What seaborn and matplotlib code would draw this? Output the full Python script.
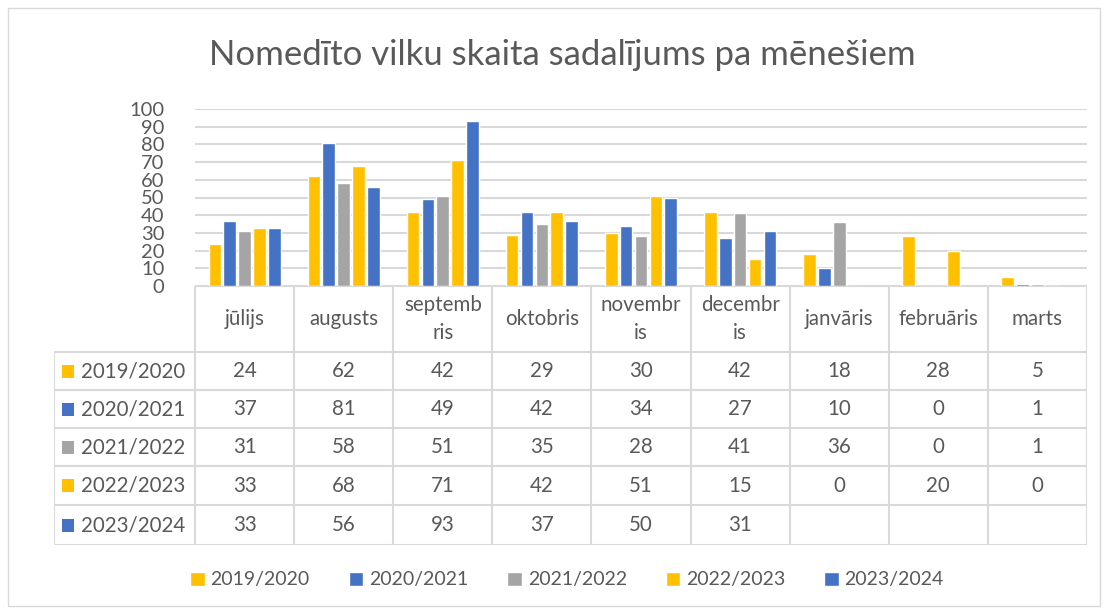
import numpy as np
import pandas as pd
import matplotlib
matplotlib.use("Agg")
import matplotlib.pyplot as plt
from matplotlib.patches import Rectangle
import seaborn as sns

# ------------------------------
# Data
# ------------------------------
months = ["jūlijs", "augusts", "septembris", "oktobris", "novembris",
          "decembris", "janvāris", "februāris", "marts"]
month_labels = ["jūlijs", "augusts", "septemb\nris", "oktobris", "novembr\nis",
                "decembr\nis", "janvāris", "februāris", "marts"]
seasons = ["2019/2020", "2020/2021", "2021/2022", "2022/2023", "2023/2024"]

s2019 = [24, 62, 42, 29, 30, 42, 18, 28, 5]
s2020 = [37, 81, 49, 42, 34, 27, 10, 0, 1]
s2021 = [31, 58, 51, 35, 28, 41, 36, 0, 1]
s2022 = [33, 68, 71, 42, 51, 15, 0, 20, 0]
s2023 = [33, 56, 93, 37, 50, 31, np.nan, np.nan, np.nan]

colors = ["#FFC000", "#4472C4", "#A5A5A5", "#FFC000", "#4472C4"]
text_col = "#595959"
grid_col = "#D9D9D9"

values = [s2019, s2020, s2021, s2022, s2023]
rows = []
for s, vals in zip(seasons, values):
    for m, v in zip(months, vals):
        rows.append({"month": m, "season": s, "count": v})
df = pd.DataFrame(rows)

# ------------------------------
# Figure
# ------------------------------
sns.set_style("white")
plt.rcParams["font.family"] = ["Lato", "DejaVu Sans"]

W, H = 1105, 612
fig = plt.figure(figsize=(W / 100, H / 100), dpi=100)

# chart border
fig.patches.append(Rectangle((8 / W, 6 / H), (1100 - 8) / W, (606 - 8) / H,
                             transform=fig.transFigure, fill=False,
                             edgecolor=grid_col, lw=1))

fig.text(562 / W, 1 - 55 / H, "Nomedīto vilku skaita sadalījums pa mēnešiem",
         ha="center", va="center", fontsize=25, color=text_col)

# bar axes
px_l, px_r, px_top, px_bot = 195, 1087, 109, 286
ax = fig.add_axes([px_l / W, 1 - px_bot / H, (px_r - px_l) / W, (px_bot - px_top) / H])
sns.barplot(data=df, x="month", y="count", hue="season", order=months,
            hue_order=seasons, palette=colors, width=0.75, gap=0.15,
            saturation=1, ax=ax)
ax.set_xlim(-0.5, len(months) - 0.5)
ax.set_ylim(0, 100)
ax.set_yticks(range(0, 101, 10))
ax.yaxis.grid(True, color=grid_col, lw=1.5)
ax.set_axisbelow(True)
ax.set_xticks([])
ax.set_xlabel("")
ax.set_ylabel("")
ax.tick_params(axis="y", length=0, pad=22, labelsize=14.5, labelcolor=text_col)
for sp in ax.spines.values():
    sp.set_visible(False)

sns.move_legend(ax, "center", bbox_to_anchor=((567 - px_l) / (px_r - px_l),
                                              -(580 - px_bot) / (px_bot - px_top)),
                ncol=5, frameon=False, title=None, fontsize=14,
                handlelength=0.75, handleheight=0.75, handletextpad=0.3,
                columnspacing=2.0, labelcolor=text_col)

# ------------------------------
# Data table
# ------------------------------
tl, tb = 54, 545
lab_w = (px_l - tl) / ((px_r - px_l) / len(months))
tax = fig.add_axes([tl / W, 1 - tb / H, (px_r - tl) / W, (tb - px_bot) / H])
tax.set_xlim(-0.5 - lab_w, len(months) - 0.5)
row_y = [286, 352, 390, 428, 466, 505, 545]
tax.set_ylim(row_y[-1], row_y[0])
tax.axis("off")

x_left = -0.5 - lab_w
x_right = len(months) - 0.5
# horizontal lines
tax.hlines(row_y[0], -0.5, x_right, color=grid_col, lw=1.5)
for y in row_y[1:]:
    tax.hlines(y, x_left, x_right, color=grid_col, lw=1.5)
# vertical lines
tax.vlines(x_left, row_y[1], row_y[-1], color=grid_col, lw=1.5)
for i in range(len(months) + 1):
    tax.vlines(i - 0.5, row_y[0], row_y[-1], color=grid_col, lw=1.5)

fs = 14.8
for i, lab in enumerate(month_labels):
    tax.text(i, (row_y[0] + row_y[1]) / 2, lab, ha="center", va="center",
             fontsize=fs, color=text_col, linespacing=1.45)

sq = 0.12
for r, (s, vals, c) in enumerate(zip(seasons, values, colors)):
    yc = (row_y[r + 1] + row_y[r + 2]) / 2
    tax.add_patch(Rectangle((x_left + 0.08, yc - 6.5), sq, 13, color=c, lw=0))
    tax.text(x_left + 0.27, yc, s, ha="left", va="center", fontsize=fs,
             color=text_col)
    for i, v in enumerate(vals):
        if not np.isnan(v):
            tax.text(i, yc, f"{int(v)}", ha="center", va="center",
                     fontsize=fs, color=text_col)

fig.savefig("out.png", dpi=100)
